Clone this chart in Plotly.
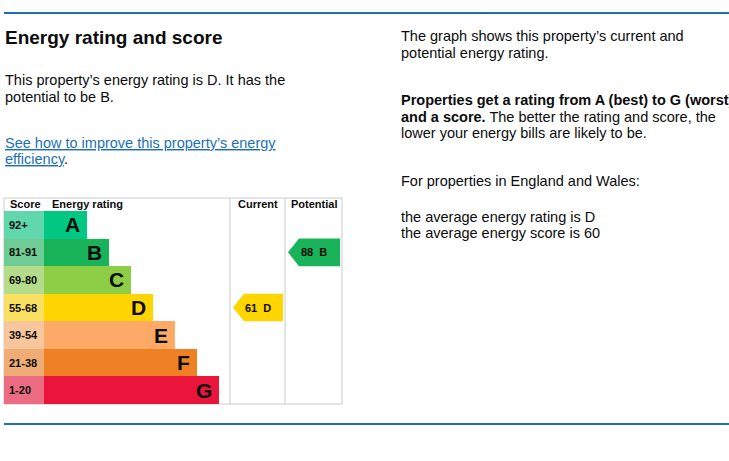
import plotly.graph_objects as go

# EPC bands, best (top) to worst (bottom)
bands = ["A", "B", "C", "D", "E", "F", "G"]
score_ranges = ["92+", "81-91", "69-80", "55-68", "39-54", "21-38", "1-20"]
band_rank = [1, 2, 3, 4, 5, 6, 7]
band_colours = ["#00c781", "#19b459", "#8dce46", "#ffd500", "#fcaa65", "#ef8023", "#e9153b"]

current_score = 61
current_band = "D"
potential_score = 88
potential_band = "B"

average_band = "D"
average_score = 60

W, H = 729, 461
FONT = "Liberation Sans, Arial, sans-serif"
INK = "#0b0c0c"
BLUE = "#1d70b8"
GRID = "#c8cacb"


# x axis: one unit = one band step (22px), bar for rank r ends at r
def px_x(px):
    return (px - 65) / 22.0


# y axis: one unit = one row, A row centred on 0
ROW_PX = 193 / 7.0


def px_y(py):
    return -0.5 + (py - 211) / ROW_PX


TABLE_L, TABLE_R = px_x(4), px_x(342)
SCORE_R = px_x(44)
CUR_L, POT_L = px_x(230), px_x(285)
HEAD_TOP, TABLE_BOT = px_y(198), px_y(404)
HEAD_MID = (HEAD_TOP - 0.5) / 2


def tint(hex_colour, a=0.6, bg=240):
    r, g, b = (int(hex_colour[i:i + 2], 16) for i in (1, 3, 5))
    mix = lambda c: round(c * a + bg * (1 - a))
    return f"rgb({mix(r)},{mix(g)},{mix(b)})"


rows = list(range(len(bands)))

fig = go.Figure()

# score column cells
fig.add_trace(go.Bar(
    y=rows, x=[SCORE_R - TABLE_L] * len(rows), base=TABLE_L,
    orientation="h", width=1,
    marker=dict(color=[tint(c) for c in band_colours], line=dict(width=0)),
    hoverinfo="skip", showlegend=False,
))

# rating bars
fig.add_trace(go.Bar(
    y=rows, x=[r - SCORE_R for r in band_rank], base=SCORE_R,
    orientation="h", width=1,
    marker=dict(color=band_colours, line=dict(width=0)),
    hoverinfo="skip", showlegend=False,
))


def arrow(band, score, col_l, col_r, name):
    row = bands.index(band)
    colour = band_colours[row]
    tip = col_l + 3 / 22.0
    flat = tip + 11 / 22.0
    right = col_r - 2 / 22.0
    xs = [tip, flat, right, right, flat, tip]
    ys = [row, row - 0.5, row - 0.5, row + 0.5, row + 0.5, row]
    fig.add_trace(go.Scatter(
        x=xs, y=ys, fill="toself", fillcolor=colour, mode="lines",
        line=dict(width=0, color=colour), hoverinfo="skip",
        showlegend=False, name=name,
    ))
    fig.add_annotation(
        x=(tip + right) / 2, y=row, xref="x", yref="y",
        text=f"<b>{score}\u00a0\u00a0{band}</b>", showarrow=False,
        font=dict(family=FONT, size=11, color=INK),
    )


arrow(current_band, current_score, CUR_L, POT_L, "Current")
arrow(potential_band, potential_score, POT_L, TABLE_R, "Potential")

# band letters and score ranges
for row, (b, s, r) in enumerate(zip(bands, score_ranges, band_rank)):
    fig.add_annotation(
        x=r, y=row, xref="x", yref="y", text=f"<b>{b}</b>",
        showarrow=False, xanchor="right", xshift=-5,
        font=dict(family=FONT, size=21, color=INK),
    )
    fig.add_annotation(
        x=TABLE_L, y=row, xref="x", yref="y", text=f"<b>{s}</b>",
        showarrow=False, xanchor="left", xshift=3,
        font=dict(family=FONT, size=11, color=INK),
    )

# header row
headers = [("Score", TABLE_L, "left", 4), ("Energy rating", SCORE_R, "left", 6),
           ("Current", (CUR_L + POT_L) / 2, "center", 0),
           ("Potential", (POT_L + TABLE_R) / 2, "center", 0)]
for txt, hx, anchor, shift in headers:
    fig.add_annotation(
        x=hx, y=HEAD_MID, xref="x", yref="y", text=f"<b>{txt}</b>",
        showarrow=False, xanchor=anchor, xshift=shift,
        font=dict(family=FONT, size=11, color=INK),
    )

# table outline and column separators
fig.add_shape(type="rect", x0=TABLE_L, x1=TABLE_R, y0=HEAD_TOP, y1=TABLE_BOT,
              xref="x", yref="y", line=dict(color=GRID, width=1), layer="below")
for cx in (CUR_L, POT_L):
    fig.add_shape(type="line", x0=cx, x1=cx, y0=HEAD_TOP, y1=TABLE_BOT,
                  xref="x", yref="y", line=dict(color=GRID, width=1), layer="below")

# blue rules top and bottom
for py in (13, 424):
    fig.add_shape(type="line", x0=4 / W, x1=1, y0=1 - py / H, y1=1 - py / H,
                  xref="paper", yref="paper", line=dict(color=BLUE, width=2))


def text_line(txt, px, py, size=14.5, colour=INK):
    fig.add_annotation(
        x=px / W, y=1 - py / H, xref="paper", yref="paper", text=txt,
        showarrow=False, xanchor="left", yanchor="middle",
        font=dict(family=FONT, size=size, color=colour),
    )


text_line("<b>Energy rating and score</b>", 3, 38, size=19)
text_line(f"This property\u2019s energy rating is {current_band}. It has the", 3, 80)
text_line(f"potential to be {potential_band}.", 3, 97)
link = f'<span style="text-decoration:underline">'
text_line(f'{link}See how to improve this property\u2019s energy</span>', 3, 143, colour=BLUE)
text_line(f'<span style="color:{BLUE};text-decoration:underline">efficiency</span>.', 3, 159)

text_line("The graph shows this property\u2019s current and", 399, 36)
text_line("potential energy rating.", 399, 53)
text_line("<b>Properties get a rating from A (best) to G (worst)</b>", 399, 100)
text_line("<b>and a score.</b> The better the rating and score, the", 399, 117)
text_line("lower your energy bills are likely to be.", 399, 133)
text_line("For properties in England and Wales:", 399, 181)
text_line(f"the average energy rating is {average_band}", 399, 217)
text_line(f"the average energy score is {average_score}", 399, 233)

fig.update_layout(
    width=W, height=H, margin=dict(l=0, r=0, t=0, b=0),
    paper_bgcolor="white", plot_bgcolor="white",
    barmode="overlay", bargap=0, showlegend=False,
    xaxis=dict(domain=[3 / W, 343 / W], range=[px_x(3), px_x(343)],
               visible=False, fixedrange=True),
    yaxis=dict(domain=[1 - 405 / H, 1 - 197 / H], range=[px_y(405), px_y(197)],
               visible=False, fixedrange=True),
    font=dict(family=FONT, color=INK),
)

# page body has a default 8px margin; drop it so the figure fills the window
fig.write_html("out.html", config={"displayModeBar": False},
               post_script="document.body.style.margin='0px';")
